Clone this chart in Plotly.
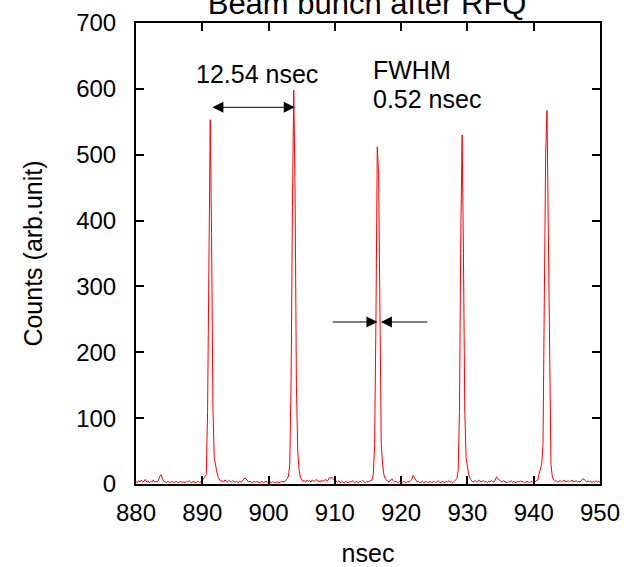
import numpy as np
import plotly.graph_objects as go

# Histogram of bunch arrival times (0.2 ns bins starting at 880 ns)
bin_start_ns = 880.0
bin_width_ns = 0.2
counts = [
    4, 2, 5, 3, 6, 3, 4, 7, 3, 5, 2, 4, 3, 6, 3, 4, 3, 6, 12, 14, 8, 4, 3, 2, 4,          # 880-884.8
    3, 2, 4, 3, 2, 4, 3, 2, 3, 4, 2, 3, 2, 4, 3, 5, 3, 2, 4, 3, 2, 3, 4, 2, 3,            # 885-889.8
    5, 9, 12, 14, 110, 365, 553, 380, 120, 40, 25, 18, 10, 6, 4, 5, 3, 6, 4, 3, 5, 4, 3, 5, 4,  # 890-894.8
    3, 4, 2, 4, 3, 4, 6, 9, 8, 5, 3, 4, 3, 2, 4, 3, 4, 3, 2, 3, 4, 2, 3, 4, 3,            # 895-899.8
    2, 3, 2, 4, 2, 3, 2, 3, 2, 3, 4, 3, 4, 5, 8, 12, 30, 160, 420, 598, 440, 150, 50, 22, 10,  # 900-904.8
    6, 4, 5, 3, 6, 4, 5, 3, 6, 4, 5, 7, 4, 5, 3, 6, 4, 5, 7, 4, 6, 10, 9, 10, 7,          # 905-909.8
    8, 4, 3, 5, 2, 4, 3, 2, 4, 3, 2, 4, 3, 5, 3, 2, 4, 3, 2, 4, 3, 5, 3, 2, 4,            # 910-914.8
    3, 4, 5, 6, 15, 60, 250, 512, 470, 200, 60, 30, 14, 8, 5, 4, 3, 6, 8, 5, 3, 4, 3, 2, 4,  # 915-919.8
    3, 2, 4, 3, 2, 4, 3, 5, 7, 13, 9, 5, 3, 4, 2, 3, 4, 2, 3, 4, 2, 3, 4, 2, 3,           # 920-924.8
    4, 2, 3, 5, 3, 2, 4, 3, 2, 4, 3, 5, 3, 4, 2, 4, 6, 8, 20, 110, 380, 530, 350, 110, 40,  # 925-929.8
    22, 14, 8, 5, 3, 4, 5, 3, 4, 6, 3, 4, 5, 3, 4, 2, 4, 3, 5, 4, 3, 6, 11, 8, 6,         # 930-934.8
    4, 3, 5, 4, 3, 2, 4, 3, 5, 3, 4, 2, 3, 4, 3, 5, 3, 4, 2, 3, 4, 3, 2, 4, 3,            # 935-939.8
    4, 3, 5, 6, 15, 25, 30, 60, 250, 500, 567, 380, 120, 30, 12, 6, 4, 5, 3, 4, 5, 3, 4, 6, 3,  # 940-944.8
    4, 5, 3, 4, 6, 3, 4, 5, 3, 4, 3, 5, 8, 7, 4, 3, 5, 3, 4, 2, 4, 3, 5, 3, 4,           # 945-949.8
    3,                                                                                    # 950
]
time_ns = bin_start_ns + bin_width_ns * np.arange(len(counts))

x_ticks = [880, 890, 900, 910, 920, 930, 940, 950]
y_ticks = [0, 100, 200, 300, 400, 500, 600, 700]

# Annotation values
period_label = "12.54 nsec"
period_from, period_to, period_level = 891.3, 903.95, 572
fwhm_title = "FWHM"
fwhm_label = "0.52 nsec"
fwhm_left_tail, fwhm_left_tip = 909.45, 916.43
fwhm_right_tail, fwhm_right_tip = 924.2, 916.94
fwhm_level = 246

FONT = "Liberation Sans, Arial, sans-serif"
FS = 25
TFS = 24

fig = go.Figure()
fig.add_trace(go.Scatter(x=time_ns, y=counts, mode="lines",
                         line=dict(color="#ff0000", width=1), showlegend=False))

arrow_common = dict(xref="x", yref="y", axref="x", ayref="y", text="",
                    showarrow=True, arrowhead=2, arrowsize=2.2, arrowwidth=1,
                    arrowcolor="black")
fig.add_annotation(x=period_to, y=period_level, ax=period_from, ay=period_level,
                   arrowside="end+start", **arrow_common)
fig.add_annotation(x=fwhm_left_tip, y=fwhm_level, ax=fwhm_left_tail, ay=fwhm_level, **arrow_common)
fig.add_annotation(x=fwhm_right_tip, y=fwhm_level, ax=fwhm_right_tail, ay=fwhm_level, **arrow_common)

fig.add_annotation(x=898.2, y=622, xref="x", yref="y", text=period_label, showarrow=False,
                   font=dict(size=FS, color="black", family=FONT))
fig.add_annotation(x=915.4, y=628, xref="x", yref="y", text=fwhm_title, showarrow=False,
                   xanchor="left", font=dict(size=FS, color="black", family=FONT))
fig.add_annotation(x=915.4, y=584, xref="x", yref="y", text=fwhm_label, showarrow=False,
                   xanchor="left", font=dict(size=FS, color="black", family=FONT))

axis_common = dict(showline=True, linecolor="black", linewidth=2, mirror="ticks",
                   ticks="inside", ticklen=8, tickwidth=2, tickcolor="black",
                   showgrid=False, zeroline=False, automargin=False,
                   tickfont=dict(size=TFS, color="black", family=FONT))

fig.update_layout(
    width=634, height=567,
    margin=dict(l=136, r=34, t=23, b=83, autoexpand=False),
    paper_bgcolor="white", plot_bgcolor="white",
    font=dict(family=FONT, color="black"),
    title=dict(text="Beam bunch after RFQ", x=0.579, xanchor="center",
               yref="container", y=0.995, yanchor="middle", automargin=False,
               font=dict(size=31, color="black", family=FONT)),
    xaxis=dict(range=[880, 950], tickvals=x_ticks, ticklabelstandoff=6,
               title=dict(text="nsec", font=dict(size=FS, family=FONT), standoff=23),
               **axis_common),
    yaxis=dict(range=[0, 700], tickvals=y_ticks, ticklabelstandoff=13,
               title=dict(text="Counts (arb.unit)", font=dict(size=FS, family=FONT), standoff=26),
               **axis_common),
)

fig.write_html("out.html", config={"displayModeBar": False},
               post_script="document.body.style.margin='0';")
